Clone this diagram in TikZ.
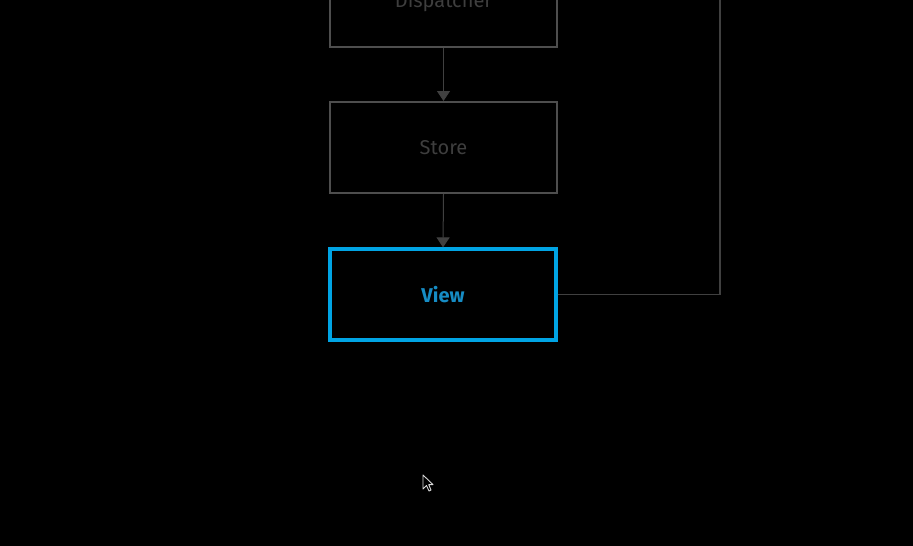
\documentclass[tikz,border=0pt]{standalone}
\usepackage{fontspec}
\setmainfont{Fira Sans}
\usetikzlibrary{arrows.meta}
\definecolor{boxgray}{RGB}{78,78,78}
\definecolor{txtgray}{RGB}{62,62,62}
\definecolor{linegray}{RGB}{64,64,64}
\definecolor{viewblue}{RGB}{0,164,228}
\definecolor{viewtxt}{RGB}{22,140,196}
\tikzset{
  flowbox/.style={draw=boxgray, line width=2pt, minimum width=227pt, minimum height=91pt, inner sep=0pt, text=txtgray, font=\fontsize{20}{24}\selectfont},
  viewbox/.style={draw=viewblue, line width=3.2pt, minimum width=226pt, minimum height=91pt, inner sep=0pt, text=viewtxt, font=\fontsize{20}{24}\selectfont\bfseries},
  flowarrow/.style={draw=linegray, line width=1pt, -{Triangle[width=13pt,length=10pt]}},
  backline/.style={draw=linegray, line width=1.2pt},
}
\begin{document}
\begin{tikzpicture}[x=1pt,y=-1pt]
\useasboundingbox (0,0) rectangle (913,546);
\fill[black] (0,0) rectangle (913,546);
\clip (0,0) rectangle (913,546);
\node[flowbox] (dispatcher) at (443.5,1.5) {Dispatcher};
\node[flowbox] (store) at (443.5,147.5) {Store};
\node[viewbox] (view) at (443,294.5) {View};
\coordinate (topend) at (720,-20);
\draw[flowarrow] (dispatcher.south) -- (store.north);
\draw[flowarrow] (store.south) -- (view.north);
\draw[backline] (view.east) -- (720,294.5) -- (topend);
% mouse cursor
\draw[white!85!black, fill=black, line width=0.9pt, line join=round]
  (423,475) -- (423,489) -- (426.5,485.5) -- (429,491) -- (431,490) -- (428.7,484.6) -- (433,484.6) -- cycle;
\end{tikzpicture}
\end{document}
